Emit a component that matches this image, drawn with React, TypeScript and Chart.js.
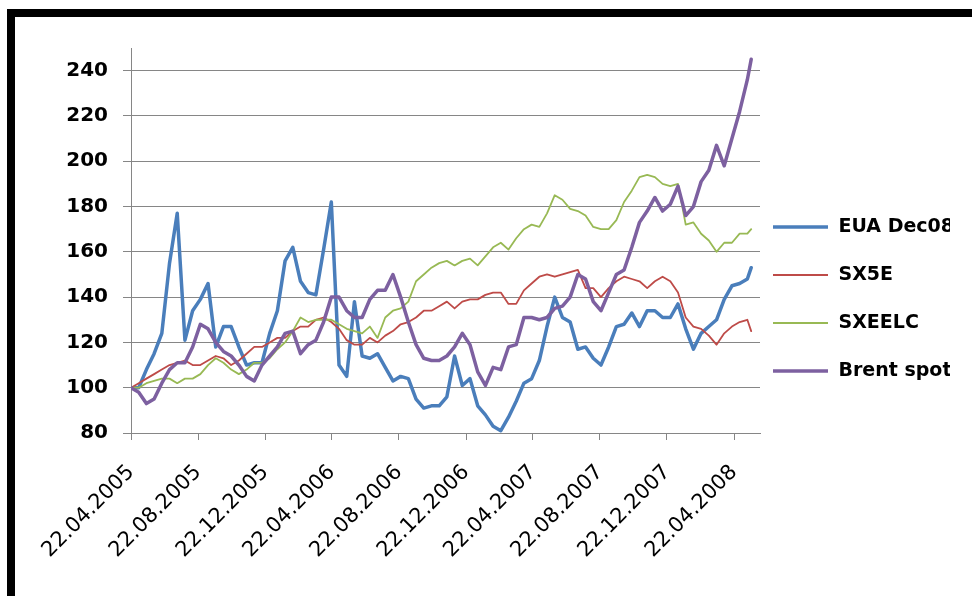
import React, { useEffect, useRef } from 'react';
import { Chart, registerables } from 'chart.js';

Chart.register(...registerables);

// ---- data ----
const seriesNames = ['EUA Dec08', 'SX5E', 'SXEELC', 'Brent spot'];
const startDate = '22.04.2005';
const axisEndDate = '08.06.2008';
const lastObservationDate = '23.05.2008';
const stepDays = 14; // observations read every two weeks

const tickLabels = [
  '22.04.2005', '22.08.2005', '22.12.2005', '22.04.2006', '22.08.2006',
  '22.12.2006', '22.04.2007', '22.08.2007', '22.12.2007', '22.04.2008',
];
const yTicks = [80, 100, 120, 140, 160, 180, 200, 220, 240];

const euaDec08 = [
  100, 100, 108, 115, 124, 155, 177, 121, 134, 139,
  146, 118, 127, 127, 118, 110, 111, 111, 124, 134,
  156, 162, 147, 142, 141, 161, 182, 110, 105, 138,
  114, 113, 115, 109, 103, 105, 104, 95, 91, 92,
  92, 96, 114, 101, 104, 92, 88, 83, 81, 87,
  94, 102, 104, 112, 127, 140, 131, 129, 117, 118,
  113, 110, 118, 127, 128, 133, 127, 134, 134, 131,
  131, 137, 126, 117, 124, 127, 130, 139, 145, 146,
  148, 153,
];
const sx5e = [
  100, 102, 104, 106, 108, 110, 111, 112, 110, 110,
  112, 114, 113, 110, 112, 115, 118, 118, 120, 122,
  122, 125, 127, 127, 130, 131, 129, 126, 121, 119,
  119, 122, 120, 123, 125, 128, 129, 131, 134, 134,
  136, 138, 135, 138, 139, 139, 141, 142, 142, 137,
  137, 143, 146, 149, 150, 149, 150, 151, 152, 144,
  144, 140, 144, 147, 149, 148, 147, 144, 147, 149,
  147, 142, 131, 127, 126, 123, 119, 124, 127, 129,
  130, 125,
];
const sxeelc = [
  100, 100, 102, 103, 104, 104, 102, 104, 104, 106,
  110, 113, 111, 108, 106, 108, 111, 111, 113, 117,
  120, 125, 131, 129, 130, 130, 130, 128, 126, 125,
  124, 127, 122, 131, 134, 135, 138, 147, 150, 153,
  155, 156, 154, 156, 157, 154, 158, 162, 164, 161,
  166, 170, 172, 171, 177, 185, 183, 179, 178, 176,
  171, 170, 170, 174, 182, 187, 193, 194, 193, 190,
  189, 190, 172, 173, 168, 165, 160, 164, 164, 168,
  168, 170,
];
const brentSpot = [
  100, 98, 93, 95, 102, 108, 111, 111, 118, 128,
  126, 120, 116, 114, 110, 105, 103, 110, 114, 118,
  124, 125, 115, 119, 121, 129, 140, 140, 134, 131,
  131, 139, 143, 143, 150, 140, 129, 119, 113, 112,
  112, 114, 118, 124, 119, 107, 101, 109, 108, 118,
  119, 131, 131, 130, 131, 135, 136, 140, 150, 148,
  138, 134, 142, 150, 152, 162, 173, 178, 184, 178,
  181, 189, 176, 180, 191, 196, 207, 198, 210, 222,
  236, 245,
];

const seriesColors = ['#4A7EBB', '#BE4B48', '#98B954', '#7D60A0'];
const seriesWidths = [3.5, 1.8, 1.8, 3.5];

// ---- helpers ----
const dayOf = (s: string) => {
  const [d, m, y] = s.split('.').map(Number);
  return Math.round((Date.UTC(y, m - 1, d) - Date.UTC(2005, 3, 22)) / 86400000);
};
const startDay = dayOf(startDate);
const axisEndDay = dayOf(axisEndDate) - startDay;
const tickDays = tickLabels.map((l) => dayOf(l) - startDay);
const obsDays = euaDec08.map((_, i) =>
  i < euaDec08.length - 1 ? i * stepDays : dayOf(lastObservationDate) - startDay
);

const allSeries = [euaDec08, sx5e, sxeelc, brentSpot];

const legendLines = {
  id: 'legendLines',
  afterDraw(chart: any) {
    const lg = chart.legend;
    if (!lg || !lg.legendHitBoxes || !lg.legendItems) return;
    const ctx = chart.ctx;
    lg.legendItems.forEach((item: any, k: number) => {
      const hb = lg.legendHitBoxes[k];
      if (!hb) return;
      const ds = chart.data.datasets[item.datasetIndex];
      const y = hb.top + hb.height / 2;
      ctx.save();
      ctx.strokeStyle = ds.borderColor;
      ctx.lineWidth = ds.borderWidth;
      ctx.lineCap = 'butt';
      ctx.beginPath();
      ctx.moveTo(hb.left - 1, y);
      ctx.lineTo(hb.left + 54, y);
      ctx.stroke();
      ctx.restore();
    });
  },
};

export default function App() {
  const ref = useRef<HTMLCanvasElement | null>(null);

  useEffect(() => {
    if (!ref.current) return;
    Chart.defaults.font.family = 'DejaVu Sans';
    const gray = '#868686';
    const chart = new Chart(ref.current, {
      type: 'line',
      data: {
        datasets: allSeries.map((vals, s) => ({
          label: seriesNames[s],
          data: vals.map((v, i) => ({ x: obsDays[i], y: v })),
          borderColor: seriesColors[s],
          backgroundColor: seriesColors[s],
          borderWidth: seriesWidths[s],
          pointRadius: 0,
          tension: 0,
          fill: false,
          borderJoinStyle: 'round' as const,
          borderCapStyle: 'round' as const,
          order: allSeries.length - 1 - s,
        })),
      },
      options: {
        animation: false,
        responsive: false,
        maintainAspectRatio: false,
        layout: { padding: { left: 15, top: 48, right: 22, bottom: 0 } },
        plugins: {
          tooltip: { enabled: false },
          legend: {
            position: 'right',
            align: 'start',
            maxWidth: 190,
            title: {
              display: true,
              text: '',
              font: { size: 10, lineHeight: 1 },
              padding: { top: 0, bottom: 138 },
            },
            labels: {
              boxWidth: 55,
              boxHeight: 34,
              padding: 14,
              color: '#000',
              font: { family: 'DejaVu Sans', size: 19, weight: 'bold' },
              sort: (a: any, b: any) => a.datasetIndex - b.datasetIndex,
              generateLabels: (c: any) =>
                Chart.defaults.plugins.legend.labels.generateLabels(c).map((l: any) => ({
                  ...l,
                  fillStyle: 'rgba(0,0,0,0)',
                  strokeStyle: 'rgba(0,0,0,0)',
                  lineWidth: 0,
                })),
            },
          },
        },
        scales: {
          x: {
            type: 'linear',
            min: 0,
            max: axisEndDay,
            afterBuildTicks: (scale: any) => {
              scale.ticks = tickDays.map((v) => ({ value: v }));
            },
            afterFit: (scale: any) => {
              scale.height = 163;
            },
            ticks: {
              autoSkip: false,
              minRotation: 45,
              maxRotation: 45,
              padding: 20,
              color: '#000',
              font: { family: 'DejaVu Sans', size: 21 },
              callback: (_v: any, i: number) => tickLabels[i],
            },
            grid: { drawOnChartArea: false, drawTicks: true, tickLength: 7, color: gray },
            border: { display: true, color: gray, width: 1 },
          },
          y: {
            type: 'linear',
            min: 80,
            max: 250,
            afterBuildTicks: (scale: any) => {
              scale.ticks = yTicks.map((v) => ({ value: v }));
            },
            afterFit: (scale: any) => {
              scale.width = 116;
            },
            ticks: {
              padding: 15,
              color: '#000',
              font: { family: 'DejaVu Sans', size: 20, weight: 'bold' },
            },
            grid: { color: gray, lineWidth: 1, tickLength: 8 },
            border: { display: true, color: gray, width: 1 },
          },
        },
      },
      plugins: [legendLines],
    });
    return () => chart.destroy();
  }, []);

  return (
    <div style={{ position: 'absolute', left: 0, top: 0, width: 972, height: 596, background: '#fff', overflow: 'hidden' }}>
      <canvas ref={ref} width={972} height={596} style={{ position: 'absolute', left: 0, top: 0, width: 972, height: 596 }} />
      <div
        style={{
          position: 'absolute',
          left: 7,
          top: 9,
          right: 0,
          bottom: 0,
          borderTop: '8px solid #000',
          borderLeft: '8px solid #000',
          pointerEvents: 'none',
        }}
      />
    </div>
  );
}
